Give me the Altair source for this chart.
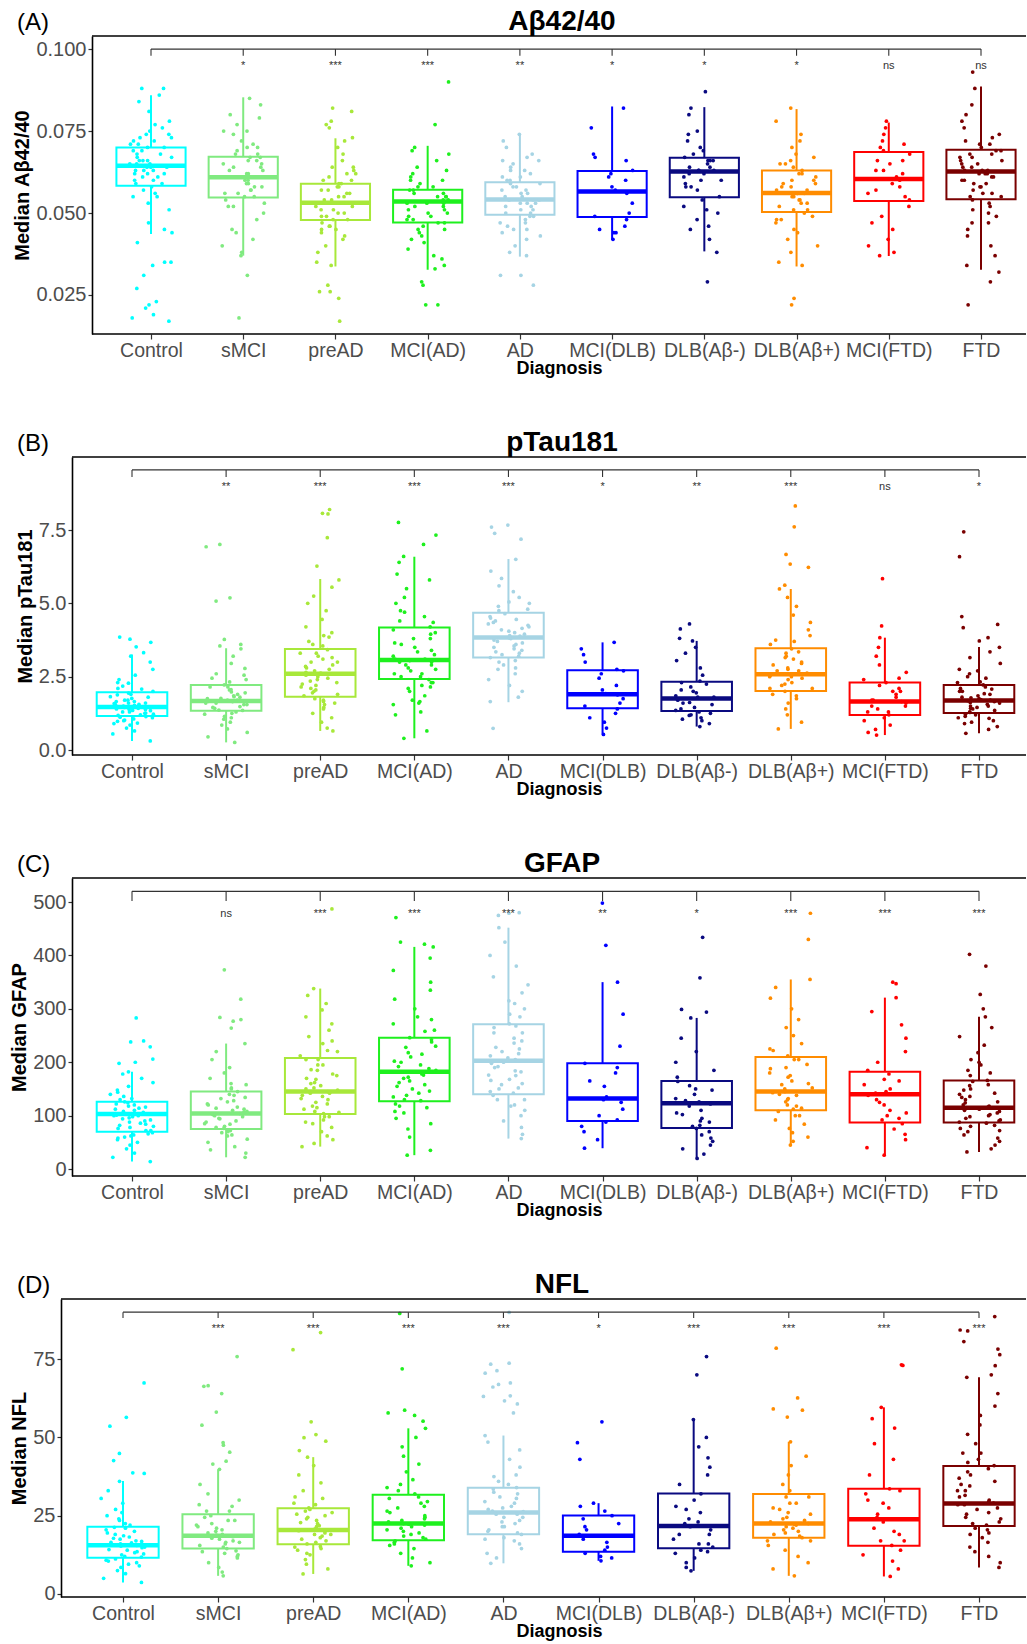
import altair as alt
import pandas as pd

groups = ["Control", "sMCI", "preAD", "MCI(AD)", "AD", "MCI(DLB)", "DLB(Aβ-)", "DLB(Aβ+)", "MCI(FTD)", "FTD"]
colors = ["#00FFFF", "#80EA80", "#A8E83A", "#1EF01E", "#A6D4E4", "#0000FF", "#0A0A80", "#FF8C00", "#FF0000", "#7A0000"]

# ---------------- Panel A : Abeta42/40 ----------------
abeta_q1 = [0.0583, 0.0547, 0.0479, 0.0471, 0.0495, 0.0488, 0.0548, 0.0503, 0.0537, 0.0542]
abeta_med = [0.0644, 0.0609, 0.0531, 0.0535, 0.0541, 0.0566, 0.0627, 0.0561, 0.0604, 0.0627]
abeta_q3 = [0.0700, 0.0672, 0.0589, 0.0571, 0.0594, 0.0628, 0.0669, 0.0630, 0.0686, 0.0693]
abeta_lo = [0.0436, 0.0370, 0.0337, 0.0327, 0.0367, 0.0418, 0.0383, 0.0337, 0.0369, 0.0327]
abeta_hi = [0.0859, 0.0853, 0.0728, 0.0705, 0.0739, 0.0825, 0.0823, 0.0817, 0.0776, 0.0886]
abeta_sig = ["", "*", "***", "***", "**", "*", "*", "*", "ns", "ns"]
abeta_points = [
    [0.017, 0.018, 0.019, 0.021, 0.022, 0.023, 0.027, 0.031, 0.034, 0.035, 0.035, 0.041, 0.044, 0.045, 0.047,
     0.051, 0.053, 0.055, 0.057, 0.059, 0.060, 0.061, 0.062, 0.063, 0.063, 0.064, 0.065, 0.065, 0.066, 0.067,
     0.068, 0.069, 0.070, 0.071, 0.072, 0.073, 0.074, 0.075, 0.076, 0.077, 0.078, 0.081, 0.084, 0.086, 0.088, 0.088],
    [0.018, 0.031, 0.037, 0.038, 0.040, 0.042, 0.044, 0.045, 0.048, 0.050, 0.052, 0.054, 0.055, 0.056, 0.057,
     0.058, 0.059, 0.060, 0.061, 0.061, 0.062, 0.063, 0.064, 0.065, 0.066, 0.067, 0.068, 0.069, 0.070, 0.072,
     0.074, 0.075, 0.075, 0.077, 0.079, 0.080, 0.083, 0.085],
    [0.017, 0.024, 0.026, 0.026, 0.028, 0.034, 0.035, 0.038, 0.040, 0.042, 0.044, 0.045, 0.046, 0.047, 0.048,
     0.049, 0.050, 0.051, 0.052, 0.053, 0.053, 0.054, 0.055, 0.056, 0.057, 0.058, 0.059, 0.060, 0.061, 0.062,
     0.063, 0.064, 0.066, 0.068, 0.070, 0.072, 0.073, 0.076, 0.077, 0.078, 0.081, 0.082],
    [0.022, 0.022, 0.028, 0.029, 0.033, 0.034, 0.036, 0.037, 0.039, 0.041, 0.043, 0.044, 0.045, 0.046, 0.047,
     0.048, 0.049, 0.050, 0.051, 0.052, 0.053, 0.053, 0.054, 0.055, 0.055, 0.056, 0.057, 0.058, 0.059, 0.060,
     0.061, 0.062, 0.064, 0.066, 0.068, 0.069, 0.070, 0.077, 0.090],
    [0.028, 0.031, 0.031, 0.037, 0.038, 0.040, 0.042, 0.044, 0.045, 0.046, 0.047, 0.048, 0.049, 0.050, 0.051,
     0.052, 0.053, 0.053, 0.054, 0.054, 0.055, 0.056, 0.057, 0.058, 0.059, 0.060, 0.061, 0.062, 0.063, 0.064,
     0.065, 0.066, 0.067, 0.068, 0.070, 0.072, 0.074],
    [0.042, 0.044, 0.044, 0.045, 0.046, 0.048, 0.049, 0.050, 0.053, 0.056, 0.057, 0.058, 0.060, 0.061, 0.062,
     0.063, 0.066, 0.067, 0.068, 0.076, 0.082],
    [0.029, 0.038, 0.042, 0.045, 0.046, 0.048, 0.050, 0.051, 0.052, 0.054, 0.055, 0.057, 0.058, 0.059, 0.060,
     0.061, 0.062, 0.062, 0.063, 0.063, 0.064, 0.065, 0.066, 0.066, 0.067, 0.068, 0.069, 0.070, 0.072, 0.074,
     0.075, 0.080, 0.082, 0.087],
    [0.022, 0.024, 0.034, 0.035, 0.038, 0.040, 0.042, 0.044, 0.045, 0.047, 0.048, 0.049, 0.050, 0.051, 0.052,
     0.053, 0.054, 0.055, 0.056, 0.056, 0.057, 0.058, 0.059, 0.060, 0.061, 0.062, 0.063, 0.064, 0.065, 0.066,
     0.067, 0.068, 0.070, 0.072, 0.074, 0.078, 0.082],
    [0.037, 0.038, 0.040, 0.042, 0.045, 0.047, 0.049, 0.052, 0.054, 0.055, 0.057, 0.058, 0.060, 0.061, 0.062,
     0.063, 0.065, 0.066, 0.068, 0.069, 0.070, 0.072, 0.074, 0.076, 0.078],
    [0.022, 0.029, 0.032, 0.034, 0.037, 0.040, 0.043, 0.045, 0.047, 0.049, 0.051, 0.052, 0.053, 0.054, 0.055,
     0.056, 0.057, 0.058, 0.059, 0.060, 0.061, 0.062, 0.062, 0.063, 0.063, 0.064, 0.065, 0.066, 0.067, 0.068,
     0.069, 0.070, 0.071, 0.072, 0.074, 0.076, 0.078, 0.080, 0.083, 0.088, 0.093],
]
abeta_more = [
    [0.058, 0.059, 0.060, 0.061, 0.062, 0.062, 0.063, 0.064, 0.064, 0.065, 0.066, 0.066, 0.067, 0.068, 0.069,
     0.070, 0.071, 0.072, 0.055, 0.056, 0.073, 0.074],
    [0.055, 0.056, 0.057, 0.058, 0.059, 0.060, 0.061, 0.062, 0.063, 0.064, 0.065, 0.066, 0.067, 0.068, 0.052,
     0.053, 0.070, 0.071],
    [0.048, 0.049, 0.050, 0.051, 0.052, 0.053, 0.054, 0.055, 0.056, 0.057, 0.058, 0.059, 0.045, 0.046, 0.060,
     0.062, 0.064, 0.043],
    [0.047, 0.048, 0.049, 0.050, 0.051, 0.052, 0.053, 0.054, 0.055, 0.056, 0.057, 0.045, 0.058, 0.060, 0.042, 0.063],
    [0.049, 0.050, 0.051, 0.052, 0.053, 0.054, 0.055, 0.056, 0.057, 0.058, 0.059, 0.047, 0.060, 0.061, 0.063,
     0.045, 0.066, 0.043],
    [],
    [0.060, 0.063, 0.064, 0.066, 0.058],
    [0.051, 0.053, 0.055, 0.057, 0.058, 0.060, 0.062, 0.054, 0.056, 0.059, 0.048, 0.065],
    [0.059, 0.063, 0.066, 0.071, 0.056],
    [0.055, 0.056, 0.058, 0.060, 0.061, 0.063, 0.064, 0.065, 0.066, 0.067, 0.068, 0.069, 0.062, 0.059, 0.071,
     0.073, 0.050, 0.047],
]

# ---------------- Panel B : pTau181 ----------------
ptau_q1 = [1.16, 1.34, 1.82, 2.42, 3.15, 1.42, 1.33, 2.01, 1.19, 1.26]
ptau_med = [1.47, 1.67, 2.60, 3.07, 3.84, 1.90, 1.76, 2.58, 1.65, 1.69]
ptau_q3 = [1.97, 2.22, 3.44, 4.18, 4.68, 2.72, 2.33, 3.47, 2.30, 2.22]
ptau_lo = [0.31, 0.26, 0.65, 0.40, 1.63, 0.53, 0.80, 0.72, 0.51, 0.57]
ptau_hi = [3.26, 3.47, 5.83, 6.59, 6.51, 3.67, 3.72, 5.49, 3.83, 3.51]
ptau_sig = ["", "**", "***", "***", "***", "*", "**", "***", "ns", "*"]
ptau_points = [
    [0.31, 0.55, 0.65, 0.75, 0.85, 0.92, 0.98, 1.02, 1.06, 1.10, 1.14, 1.18, 1.22, 1.26, 1.30, 1.34, 1.38, 1.42,
     1.45, 1.48, 1.52, 1.56, 1.60, 1.65, 1.70, 1.76, 1.82, 1.88, 1.94, 2.00, 2.08, 2.18, 2.28, 2.40, 2.55, 2.75,
     3.00, 3.20, 3.32, 3.52, 3.67, 3.78, 3.85],
    [0.26, 0.45, 0.60, 0.72, 0.85, 0.95, 1.05, 1.15, 1.22, 1.30, 1.36, 1.42, 1.48, 1.55, 1.60, 1.66, 1.70, 1.76,
     1.82, 1.90, 1.98, 2.06, 2.15, 2.22, 2.32, 2.45, 2.60, 2.78, 2.95, 3.20, 3.45, 3.55, 3.60, 3.77, 5.08, 5.19,
     6.93, 7.01],
    [0.65, 0.75, 0.95, 1.10, 1.25, 1.40, 1.55, 1.65, 1.75, 1.85, 1.95, 2.05, 2.15, 2.25, 2.35, 2.45, 2.55, 2.62,
     2.70, 2.80, 2.90, 3.00, 3.10, 3.20, 3.30, 3.42, 3.55, 3.70, 3.85, 4.00, 4.20, 4.45, 4.75, 5.00, 5.25, 5.55,
     5.80, 6.27, 7.24, 8.05, 8.07, 8.20],
    [0.40, 0.65, 1.20, 1.30, 1.55, 1.60, 1.70, 1.85, 2.00, 2.10, 2.20, 2.30, 2.40, 2.50, 2.60, 2.70, 2.80, 2.90,
     3.00, 3.05, 3.10, 3.20, 3.35, 3.50, 3.65, 3.80, 3.95, 4.10, 4.20, 4.35, 4.55, 4.75, 5.00, 5.20, 5.50, 5.80,
     6.00, 6.40, 6.60, 7.01, 7.33, 7.76],
    [0.74, 1.65, 1.80, 2.00, 2.20, 2.40, 2.60, 2.75, 2.90, 3.05, 3.15, 3.25, 3.35, 3.45, 3.55, 3.65, 3.75, 3.82,
     3.88, 3.95, 4.05, 4.15, 4.25, 4.35, 4.45, 4.55, 4.65, 4.75, 4.90, 5.05, 5.20, 5.40, 5.60, 5.85, 6.10, 6.50,
     7.19, 7.39, 7.60, 7.67],
    [0.53, 0.75, 0.95, 1.10, 1.25, 1.40, 1.50, 1.60, 1.75, 1.88, 1.92, 2.05, 2.20, 2.45, 2.60, 2.70, 2.75, 3.00,
     3.25, 3.45, 3.67],
    [0.80, 0.90, 1.00, 1.05, 1.10, 1.18, 1.25, 1.30, 1.35, 1.45, 1.55, 1.62, 1.70, 1.75, 1.80, 1.85, 1.95, 2.05,
     2.15, 2.25, 2.30, 2.35, 2.55, 2.80, 3.05, 3.30, 3.50, 3.72, 3.81, 4.13, 4.30],
    [0.72, 0.95, 1.20, 1.40, 1.60, 1.75, 1.90, 2.00, 2.10, 2.20, 2.30, 2.40, 2.50, 2.55, 2.62, 2.70, 2.80, 2.90,
     3.00, 3.10, 3.20, 3.35, 3.45, 3.60, 3.75, 3.90, 4.10, 4.35, 4.60, 4.90, 5.20, 5.49, 5.62, 6.23, 6.34, 6.67,
     7.61, 8.32],
    [0.51, 0.60, 0.70, 0.85, 1.00, 1.10, 1.20, 1.30, 1.40, 1.50, 1.60, 1.65, 1.70, 1.80, 1.90, 2.00, 2.10, 2.20,
     2.30, 2.45, 2.65, 2.90, 3.20, 3.50, 3.83, 4.23, 5.84],
    [0.57, 0.70, 0.80, 0.90, 1.00, 1.08, 1.15, 1.22, 1.28, 1.35, 1.42, 1.50, 1.56, 1.62, 1.68, 1.72, 1.78, 1.85,
     1.92, 2.00, 2.08, 2.15, 2.22, 2.32, 2.45, 2.60, 2.75, 2.95, 3.15, 3.35, 3.50, 3.72, 3.83, 4.17, 4.28, 4.55,
     6.59, 7.44],
]
ptau_more = [
    [1.20, 1.25, 1.30, 1.35, 1.40, 1.45, 1.50, 1.55, 1.60, 1.65, 1.70, 1.80, 1.90, 1.12, 1.00, 2.10, 2.30, 0.90,
     1.38, 1.48, 1.58],
    [1.35, 1.45, 1.55, 1.65, 1.70, 1.75, 1.85, 1.95, 2.05, 2.15, 1.25, 1.10, 2.40, 2.55, 1.60, 1.80],
    [1.90, 2.00, 2.10, 2.20, 2.30, 2.40, 2.50, 2.65, 2.75, 2.85, 3.00, 3.15, 3.30, 1.70, 1.60, 3.60, 3.90, 1.45],
    [2.50, 2.60, 2.75, 2.90, 3.00, 3.10, 3.25, 3.40, 3.60, 3.80, 4.00, 2.30, 2.15, 4.40, 4.70, 1.65],
    [3.20, 3.30, 3.40, 3.50, 3.60, 3.70, 3.80, 3.90, 4.00, 4.10, 4.20, 4.30, 4.40, 4.50, 3.00, 2.80, 4.80, 5.00],
    [],
    [1.40, 1.60, 1.80, 2.00, 1.20],
    [2.10, 2.25, 2.45, 2.60, 2.75, 2.95, 3.15, 3.30, 1.85, 3.70, 2.50, 2.70],
    [1.30, 1.50, 1.70, 2.00, 2.40],
    [1.30, 1.40, 1.50, 1.60, 1.70, 1.75, 1.80, 1.90, 2.00, 2.10, 1.20, 1.10, 2.30, 2.50, 1.65, 1.45, 0.95, 2.70],
]

# ---------------- Panel C : GFAP ----------------
gfap_q1 = [70, 75, 103, 127, 140, 90, 77, 110, 87, 87]
gfap_med = [103, 104, 145, 182, 203, 132, 123, 145, 140, 115]
gfap_q3 = [126, 145, 208, 246, 271, 198, 165, 210, 182, 166]
gfap_lo = [14, 22, 42, 26, 57, 39, 20, 45, 26, 32]
gfap_hi = [182, 235, 338, 416, 452, 350, 283, 355, 321, 285]
gfap_sig = ["", "ns", "***", "***", "***", "**", "*", "***", "***", "***"]
gfap_points = [
    [14, 22, 30, 38, 45, 50, 55, 60, 64, 68, 72, 76, 80, 84, 88, 92, 96, 100, 103, 106, 110, 114, 118, 122, 126,
     132, 140, 148, 155, 162, 170, 178, 182, 198, 200, 206, 229, 238, 240, 283],
    [22, 30, 36, 42, 50, 56, 62, 68, 72, 76, 80, 85, 90, 95, 100, 104, 108, 114, 120, 126, 132, 138, 145, 152,
     160, 170, 180, 190, 205, 220, 235, 264, 277, 280, 284, 318, 373],
    [42, 48, 55, 62, 70, 78, 85, 92, 98, 104, 108, 112, 118, 125, 132, 138, 142, 145, 150, 156, 162, 170, 178, 186,
     195, 205, 212, 222, 235, 248, 260, 272, 285, 298, 310, 325, 338, 487],
    [26, 35, 60, 75, 85, 95, 105, 115, 122, 128, 135, 142, 150, 158, 165, 172, 178, 182, 188, 195, 202, 210, 218,
     228, 238, 246, 258, 272, 285, 300, 318, 335, 350, 372, 395, 416, 421, 425, 471],
    [57, 65, 78, 90, 100, 110, 120, 130, 138, 145, 152, 160, 168, 176, 184, 192, 200, 205, 212, 220, 228, 236, 245,
     255, 265, 272, 285, 300, 315, 330, 345, 360, 380, 400, 425, 452, 475, 479, 480],
    [39, 55, 70, 80, 88, 92, 100, 112, 125, 130, 135, 155, 165, 180, 190, 198, 230, 290, 350, 419, 498],
    [20, 28, 38, 45, 52, 58, 64, 70, 76, 82, 88, 95, 102, 110, 118, 122, 126, 132, 140, 148, 156, 164, 172, 185,
     200, 220, 245, 283, 294, 299, 358, 434],
    [45, 52, 60, 68, 76, 84, 92, 100, 108, 114, 120, 126, 132, 138, 143, 147, 152, 158, 165, 172, 180, 188, 196,
     205, 212, 222, 235, 250, 265, 280, 300, 320, 340, 355, 430, 479],
    [26, 40, 55, 65, 75, 85, 92, 100, 110, 120, 130, 138, 142, 150, 158, 168, 178, 185, 200, 220, 245, 270, 295,
     321, 347, 350],
    [32, 38, 45, 52, 58, 64, 70, 76, 82, 86, 90, 95, 100, 105, 110, 114, 118, 124, 130, 136, 142, 150, 158, 166,
     175, 185, 195, 205, 218, 232, 248, 265, 285, 300, 327, 380, 402],
]
gfap_more = [
    [72, 78, 82, 86, 90, 94, 98, 101, 104, 108, 112, 116, 120, 124, 66, 62, 130, 136, 58, 144, 100],
    [78, 84, 88, 94, 98, 102, 106, 110, 116, 122, 128, 134, 140, 70, 64, 150, 158, 112],
    [106, 115, 122, 130, 136, 142, 148, 152, 160, 168, 175, 185, 195, 205, 98, 88, 220, 240],
    [130, 138, 146, 155, 162, 170, 176, 185, 192, 200, 215, 230, 242, 118, 108, 260, 280],
    [142, 150, 158, 166, 175, 182, 190, 198, 208, 216, 225, 240, 255, 268, 130, 118, 290, 310],
    [],
    [90, 105, 128, 150, 80],
    [112, 118, 130, 140, 150, 160, 175, 190, 205, 100, 225, 145],
    [95, 125, 145, 165, 105],
    [88, 92, 98, 102, 108, 112, 116, 120, 126, 134, 140, 148, 156, 164, 80, 72, 180, 200],
]

# ---------------- Panel D : NFL ----------------
nfl_q1 = [11.6, 14.5, 15.9, 17.2, 19.1, 13.5, 14.6, 18.0, 15.4, 21.7]
nfl_med = [15.6, 18.6, 20.4, 22.5, 26.0, 18.6, 21.7, 22.5, 23.9, 28.9]
nfl_q3 = [21.5, 25.5, 27.4, 31.7, 33.9, 25.1, 32.1, 31.9, 33.6, 40.9]
nfl_lo = [3.7, 5.8, 6.4, 9.0, 9.8, 10.6, 7.4, 5.8, 5.6, 8.5]
nfl_hi = [36.1, 39.8, 43.7, 52.9, 50.6, 29.0, 55.7, 48.6, 59.6, 69.2]
nfl_sig = ["", "***", "***", "***", "***", "*", "***", "***", "***", "***"]
nfl_points = [
    [3.7, 5.0, 6.5, 7.5, 8.5, 9.5, 10.5, 11.2, 12.0, 12.8, 13.5, 14.2, 15.0, 15.5, 16.0, 16.8, 17.5, 18.2, 19.0,
     20.0, 21.0, 22.0, 23.5, 25.0, 27.0, 29.0, 30.5, 33.0, 36.0, 38.5, 38.7, 42.6, 44.9, 53.6, 56.4, 67.4],
    [5.8, 7.0, 8.5, 10.0, 11.5, 12.5, 13.5, 14.5, 15.5, 16.5, 17.5, 18.5, 19.0, 20.0, 21.0, 22.0, 23.5, 25.0,
     26.5, 28.0, 30.0, 32.0, 35.0, 39.8, 41.5, 42.4, 45.3, 47.5, 48.3, 53.9, 58.1, 64.0, 66.3, 66.5, 75.8],
    [6.4, 8.0, 9.5, 11.0, 12.5, 14.0, 15.0, 16.0, 17.0, 18.0, 19.0, 20.0, 20.5, 21.5, 22.5, 23.5, 24.5, 25.5,
     26.5, 27.5, 29.0, 31.0, 33.0, 35.5, 38.0, 41.0, 43.7, 45.8, 48.8, 49.9, 50.9, 55.0, 78.0, 83.5],
    [9.0, 10.0, 11.5, 13.0, 14.5, 16.0, 17.0, 18.0, 19.0, 20.0, 21.0, 22.0, 22.5, 23.5, 24.5, 26.0, 27.5, 29.0,
     30.5, 32.0, 34.0, 36.5, 39.0, 41.5, 44.0, 47.0, 50.0, 52.9, 55.2, 57.0, 57.8, 58.7, 71.9, 89.6],
    [9.8, 11.5, 13.0, 14.5, 16.0, 17.5, 19.0, 20.0, 21.5, 23.0, 24.5, 25.5, 26.5, 27.5, 29.0, 30.5, 32.0, 34.0,
     36.0, 38.0, 40.5, 43.0, 46.0, 48.5, 50.6, 57.8, 60.7, 61.7, 63.1, 63.3, 66.1, 66.9, 67.4, 70.5, 71.3, 73.4,
     73.7, 89.9],
    [10.6, 11.5, 12.0, 13.0, 14.0, 15.0, 16.5, 17.5, 18.5, 19.0, 20.5, 21.5, 22.5, 24.0, 25.0, 26.5, 28.0, 29.0,
     43.0, 48.3, 55.0],
    [7.4, 8.5, 10.0, 11.5, 13.0, 14.0, 15.0, 16.0, 17.5, 19.0, 20.5, 21.5, 22.5, 24.0, 26.0, 28.0, 30.0, 32.0,
     35.0, 38.0, 40.5, 43.5, 47.0, 50.0, 55.7, 70.0, 75.8],
    [5.8, 8.0, 10.0, 12.0, 14.0, 15.5, 17.0, 18.0, 19.0, 20.0, 21.0, 22.0, 22.5, 23.5, 24.5, 26.0, 27.5, 29.0,
     31.0, 33.0, 35.0, 38.0, 41.0, 44.0, 48.6, 56.5, 58.7, 59.1, 62.6, 78.5],
    [5.6, 8.0, 10.5, 12.5, 14.0, 15.5, 17.0, 19.0, 21.0, 23.0, 24.0, 25.5, 27.5, 30.0, 33.0, 33.6, 38.0, 43.0,
     48.0, 53.0, 56.0, 59.6, 73.0, 73.2],
    [8.5, 10.0, 12.0, 13.5, 15.0, 16.5, 18.0, 19.5, 21.0, 22.5, 24.0, 25.5, 27.0, 28.5, 29.5, 31.0, 33.0, 35.0,
     37.0, 39.0, 41.0, 43.0, 45.0, 48.0, 51.0, 54.0, 57.0, 60.0, 64.0, 69.2, 70.0, 72.9, 76.4, 78.2, 80.6, 84.0,
     84.3, 88.6],
]
nfl_more = [
    [11.8, 12.5, 13.2, 14.0, 14.8, 15.3, 15.8, 16.3, 17.0, 17.8, 18.6, 19.5, 20.5, 21.3, 10.8, 10.0, 22.5, 24.0,
     9.0, 26.0, 16.5],
    [15.0, 16.0, 17.0, 17.8, 18.3, 18.8, 19.5, 20.5, 21.5, 22.5, 23.5, 24.5, 13.8, 13.0, 26.5, 28.5, 16.5, 12.0],
    [16.5, 17.5, 18.5, 19.5, 20.2, 20.8, 21.8, 22.8, 24.0, 25.0, 26.0, 27.0, 15.2, 14.5, 28.5, 30.5, 19.0, 13.0],
    [17.5, 18.5, 19.5, 20.5, 21.5, 22.3, 23.0, 24.0, 25.0, 26.5, 28.0, 29.5, 31.0, 16.5, 15.5, 33.0, 35.0],
    [19.5, 20.5, 21.5, 22.5, 23.5, 24.5, 25.5, 26.3, 27.0, 28.0, 29.5, 31.0, 32.5, 33.5, 18.0, 17.0, 35.0, 37.5],
    [],
    [16.0, 19.0, 23.0, 27.0, 13.5],
    [18.5, 19.5, 20.5, 21.5, 22.3, 23.0, 24.0, 25.5, 27.0, 29.0, 31.0, 17.0],
    [17.0, 20.0, 24.5, 29.0, 32.0],
    [22.0, 23.0, 24.5, 26.0, 27.5, 28.5, 29.0, 30.0, 31.5, 33.0, 34.5, 36.0, 38.0, 40.0, 20.5, 19.0, 42.0, 45.0],
]

# ---------------- layout / style ----------------
FONT = "Liberation Sans"
W = 934
H = 298
ORIGIN = 87
label_expr = "[" + ",".join("'" + g + "'" for g in groups) + "][datum.value]"
cscale = alt.Scale(domain=groups, range=colors)


def panel(letter, title, ytitle, points, more, q1, med, q3, lo, hi, sig, ydom, yticks, yfmt,
          frame_off, first_px, last_px, bracket_y, tick_y, label_y):
    step = (last_px - first_px) / 9.0
    d0 = -(first_px - ORIGIN) / step
    d1 = d0 + W / step
    xs = alt.Scale(domain=[d0, d1], nice=False, zero=False)
    ys = alt.Scale(domain=ydom, nice=False, zero=False)
    xaxis = alt.Axis(values=list(range(10)), labelExpr=label_expr, title="Diagnosis", domain=False,
                     grid=False, tickSize=5, tickColor="#333333", tickWidth=1.2, labelOverlap=False,
                     labelFlush=False, labelPadding=2, titlePadding=0, labelColor="#4D4D4D",
                     labelFontSize=19.5, titleFontSize=18)
    yaxis = alt.Axis(values=yticks, format=yfmt, title=ytitle, offset=frame_off, domain=True,
                     domainColor="black", domainWidth=1.6, grid=False, tickSize=4, tickColor="#333333",
                     tickWidth=1.2, labelOverlap=False, labelFlush=False, labelPadding=2, titlePadding=3,
                     labelColor="#4D4D4D", titleFontSize=20, labelFontSize=20)

    def X(f):
        return alt.X(f, type="quantitative", scale=xs, axis=xaxis)

    def Y(f):
        return alt.Y(f, type="quantitative", scale=ys, axis=yaxis)

    rows = []
    for k in range(10):
        for v in points[k] + more[k]:
            rows.append({"g": groups[k], "xi": k, "v": v})
    pts = pd.DataFrame(rows)
    box = pd.DataFrame({"g": groups, "xi": list(range(10)), "q1": q1, "med": med, "q3": q3, "lo": lo, "hi": hi})
    one = pd.DataFrame({"a": [0]})
    br = pd.DataFrame({"x0": [0], "x1": [9], "y": [bracket_y]})
    brt = pd.DataFrame({"xi": list(range(10)), "y": [bracket_y] * 10, "y2": [tick_y] * 10})
    sg = pd.DataFrame({"xi": list(range(1, 10)), "y": [label_y] * 9, "t": sig[1:]})

    col = alt.Color("g:N", scale=cscale, legend=None)
    bx = alt.Chart(box).transform_calculate(xl="datum.xi - 0.375", xr="datum.xi + 0.375")
    rect = bx.mark_rect(fillOpacity=0, strokeWidth=2).encode(
        x=X("xl"), x2="xr", y=Y("q1"), y2="q3",
        stroke=alt.Stroke("g:N", scale=cscale, legend=None))
    wlo = bx.mark_rule(strokeWidth=2).encode(x=X("xi"), y=Y("lo"), y2="q1", color=col)
    whi = bx.mark_rule(strokeWidth=2).encode(x=X("xi"), y=Y("q3"), y2="hi", color=col)
    medl = bx.mark_rule(strokeWidth=4.5).encode(x=X("xl"), x2="xr", y=Y("med"), color=col)
    dots = alt.Chart(pts).transform_window(i="row_number()").transform_calculate(
        h="sin(datum.i * 12.9898 + datum.xi * 78.233) * 43758.5453"
    ).transform_calculate(
        xj="datum.xi + (datum.h - floor(datum.h) - 0.5) * 0.46"
    ).mark_circle(size=14, opacity=1).encode(x=X("xj"), y=Y("v"), color=col)
    bline = alt.Chart(br).mark_rule(color="#333333", strokeWidth=1.1).encode(x=X("x0"), x2="x1", y=Y("y"))
    bticks = alt.Chart(brt).mark_rule(color="#333333", strokeWidth=1.1).encode(x=X("xi"), y=Y("y"), y2="y2")
    stars = alt.Chart(sg).mark_text(fontSize=11, color="#333333", baseline="alphabetic", font=FONT).encode(
        x=X("xi"), y=Y("y"), text="t:N")
    top = alt.Chart(one).mark_rule(color="black", strokeWidth=1.6).encode(
        x=alt.value(-frame_off), x2=alt.value(W), y=alt.value(0))
    bottom = alt.Chart(one).mark_rule(color="black", strokeWidth=1.6).encode(
        x=alt.value(-frame_off), x2=alt.value(W), y=alt.value(H))
    lett = alt.Chart(one).mark_text(fontSize=24, align="left", baseline="alphabetic", font=FONT,
                                    color="black").encode(
        x=alt.value(-75), y=alt.value(-6), text=alt.value(letter))
    ttl = alt.Chart(one).mark_text(fontSize=28, fontWeight="bold", align="center", baseline="alphabetic",
                                   font=FONT, color="black").encode(
        x=alt.value(470), y=alt.value(-6), text=alt.value(title))
    return alt.layer(rect, wlo, whi, medl, dots, bline, bticks, stars, top, bottom, lett, ttl).properties(
        width=W, height=H)


pA = panel("(A)", "Aβ42/40", "Median Aβ42/40", abeta_points, abeta_more, abeta_q1, abeta_med, abeta_q3,
           abeta_lo, abeta_hi, abeta_sig, [0.0131, 0.104], [0.025, 0.05, 0.075, 0.1], ".3f", 0, 146, 976,
           0.100, 0.0980, 0.0940)
pB = panel("(B)", "pTau181", "Median pTau181", ptau_points, ptau_more, ptau_q1, ptau_med, ptau_q3, ptau_lo,
           ptau_hi, ptau_sig, [-0.17, 9.99], [0, 2.5, 5, 7.5], ".1f", 20, 127, 974, 9.55, 9.31, 8.88)
pC = panel("(C)", "GFAP", "Median GFAP", gfap_points, gfap_more, gfap_q1, gfap_med, gfap_q3, gfap_lo, gfap_hi,
           gfap_sig, [-13, 545], [0, 100, 200, 300, 400, 500], "d", 20, 127, 974, 520, 502, 472)
pD = panel("(D)", "NFL", "Median NFL", nfl_points, nfl_more, nfl_q1, nfl_med, nfl_q3, nfl_lo, nfl_hi,
           nfl_sig, [-0.96, 94.2], [0, 25, 50, 75], "d", 31, 118, 974, 90.0, 88.1, 83.8)

chart = alt.vconcat(pA, pB, pC, pD, spacing=51).properties(
    padding={"left": 9, "top": 8, "right": 0, "bottom": 0}
).configure(font=FONT).configure_view(strokeOpacity=0).configure_axis(
    labelFont=FONT, titleFont=FONT, titleFontWeight="bold", titleColor="black"
)

chart.save("out.html", embed_options={"renderer": "svg", "actions": False})
